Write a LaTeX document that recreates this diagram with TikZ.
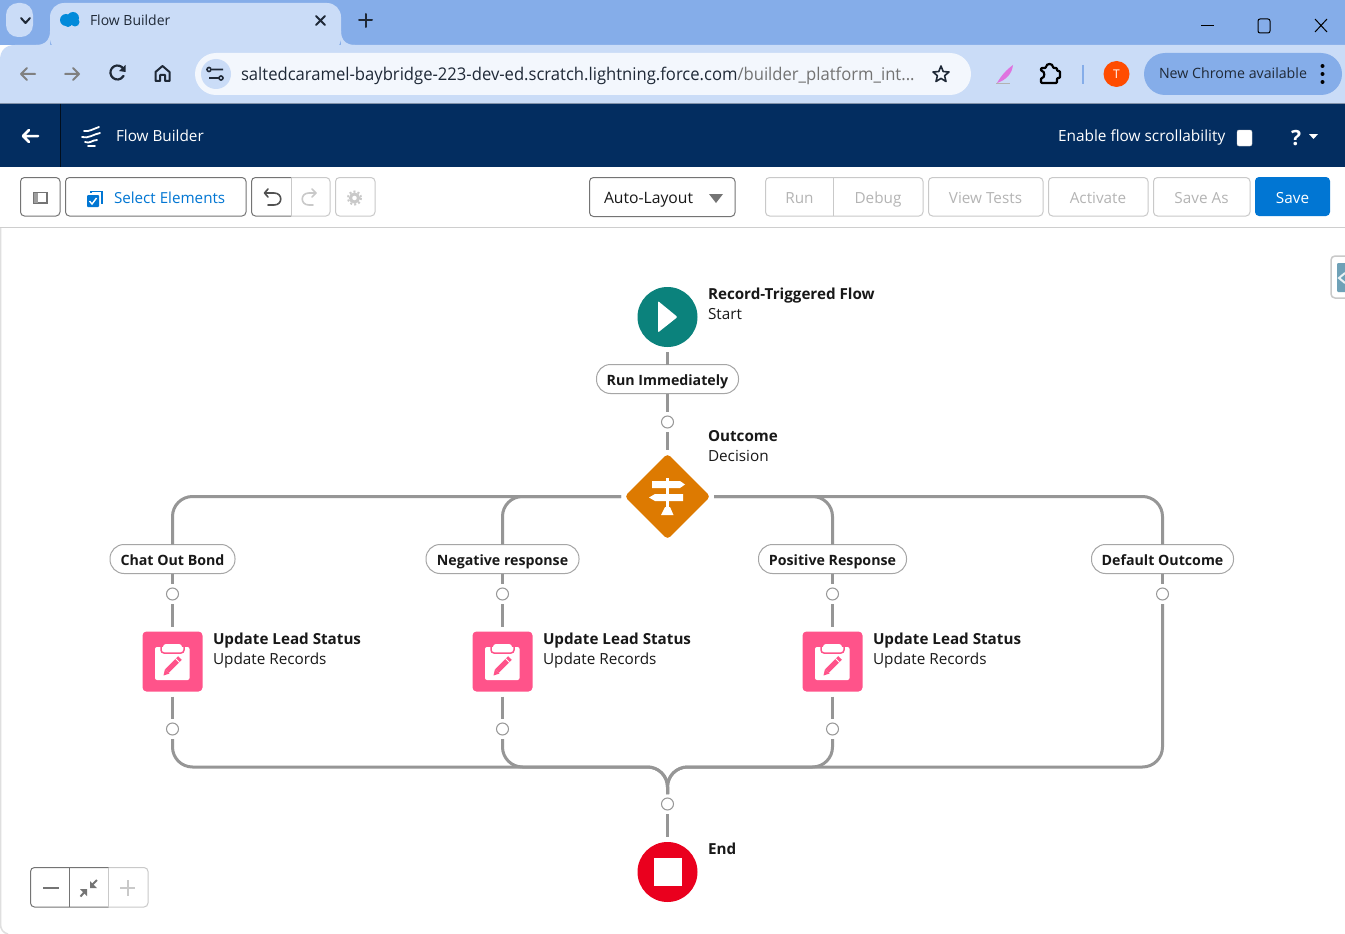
\documentclass[tikz,border=0pt]{standalone}
\usepackage{fontspec}
\setmainfont{Open Sans}
\newfontfamily\urlfont[FakeStretch=0.95]{Open Sans}
\usetikzlibrary{shapes.geometric}
\definecolor{tabbar}{HTML}{85ADE9}
\definecolor{chromebar}{HTML}{CADCF7}
\definecolor{omni}{HTML}{F3F7FD}
\definecolor{navy}{HTML}{032D60}
\definecolor{sfblue}{HTML}{0176D3}
\definecolor{flowteal}{HTML}{0B827C}
\definecolor{floworange}{HTML}{DD7A01}
\definecolor{flowpink}{HTML}{FF538A}
\definecolor{flowred}{HTML}{EA001E}
\definecolor{conn}{HTML}{969696}
\definecolor{ink}{HTML}{181818}
\definecolor{btnline}{HTML}{747474}
\definecolor{offline}{HTML}{C9C9C9}
\definecolor{offtext}{HTML}{B4B4B4}
\definecolor{chromeink}{HTML}{1F2937}
\definecolor{sidetab}{HTML}{6FA1B7}
\newcommand{\fsz}[1]{\fontsize{#1}{#1}\selectfont}
\tikzset{
  txt/.style={inner sep=0pt,outer sep=0pt,text=ink,font=\fsz{15.3},anchor=base west},
  ttl/.style={txt,font=\fsz{15.2}\bfseries},
  ctext/.style={inner sep=0pt,outer sep=0pt,anchor=base},
  pill/.style={draw=conn!85,line width=1pt,fill=white,rounded corners=14pt,minimum height=29pt,inner sep=0pt,outer sep=0pt,text=ink,text height=12pt,text depth=0pt,font=\fsz{14.2}\bfseries},
  dot/.style={circle,draw=conn,line width=1pt,fill=white,minimum size=12pt,inner sep=0pt,outer sep=4pt},
  elem/.style={circle,minimum size=60pt,inner sep=0pt,outer sep=5pt},
  recbox/.style={rectangle,rounded corners=4pt,fill=flowpink,minimum size=60pt,inner sep=0pt,outer sep=5pt},
  wire/.style={draw=conn,line width=3pt,rounded corners=20pt},
  btn/.style={draw=btnline,line width=1pt,fill=white,rounded corners=4pt},
  offbtn/.style={draw=offline,line width=1pt,fill=white,rounded corners=4pt},
  icon/.style={line width=2pt,line cap=round,line join=round},
}
\begin{document}
\begin{tikzpicture}[x=1pt,y=-1pt]
\useasboundingbox (0,0) rectangle (1345,934);
\fill[white] (0,0) rectangle (1345,934);
% browser chrome
\fill[tabbar] (0,0) rectangle (1345,45);
\fill[chromebar] (0,104) -- (0,60) .. controls (0,50) and (6,45) .. (15,45) -- (1345,45) -- (1345,104) -- cycle;
\fill[chromebar,rounded corners=14pt] (50,52) -- (50,3) -- (341,3) -- (341,52) -- cycle;
\fill[chromebar] (36,45) .. controls (45,45) and (50,40) .. (50,31) -- (50,45) -- cycle;
\fill[chromebar] (341,31) .. controls (341,40) and (346,45) .. (355,45) -- (341,45) -- cycle;
\fill[chromebar,rounded corners=12pt] (6,3) rectangle (33,37);
\draw[chromeink,icon] (21,18) -- (25.5,23) -- (30,18);
\fill[sfblue!85!cyan] (66,20) circle (6) (73,18) circle (6) (75,22) circle (4.5) (68,23) circle (4);
\node[txt,text=chromeink,font=\fsz{14}] (tabtitle) at (90,26) {Flow Builder};
\draw[chromeink,icon] (316,16) -- (325,25) (325,16) -- (316,25);
\draw[chromeink,icon] (365.5,14) -- (365.5,27) (359,20.5) -- (372,20.5);
\draw[line width=1pt,black] (1201,26) -- (1214,26);
\draw[line width=1pt,black,rounded corners=2pt] (1258,19) rectangle (1270,33);
\draw[line width=1pt,black] (1315,19) -- (1327,32) (1327,19) -- (1315,32);
% nav icons
\draw[gray,icon,line width=2pt] (35,74) -- (21,74) (27,68) -- (21,74) -- (27,80);
\draw[gray,icon,line width=2pt] (65,74) -- (79,74) (73,68) -- (79,74) -- (73,80);
\draw[chromeink,icon,line width=2.2pt] (123.5,69) arc[start angle=-30,end angle=-330,radius=7];
\fill[chromeink] (125.5,65) -- (125.5,72) -- (119,71) -- cycle;
\draw[chromeink,icon] (155.5,81) -- (155.5,72) -- (162.5,66) -- (169.5,72) -- (169.5,81) -- (165,81) -- (165,75) -- (160,75) -- (160,81) -- cycle;
\fill[omni,rounded corners=21pt] (195,53) rectangle (971,95);
\fill[chromebar] (216,74) circle (15);
\draw[chromeink,line width=1.6pt] (209,69.5) circle (2) (212,69.5) -- (223,69.5) (209,78) -- (219,78) (221,78) circle (2);
\node[txt,text=chromeink,font=\urlfont\fsz{17.5}] (url) at (241,81) {saltedcaramel-baybridge-223-dev-ed.scratch.lightning.force.com\textcolor{gray!90!black}{/builder\_platform\_int...}};
\draw[chromeink,line width=1.6pt,line join=round] (941,66) -- (943.2,71.5) -- (949,72) -- (944.6,75.7) -- (946,81.5) -- (941,78.4) -- (936,81.5) -- (937.4,75.7) -- (933,72) -- (938.8,71.5) -- cycle;
\fill[violet!45!magenta!55!white] (997,83) .. controls (1001,76) and (1006,70) .. (1013,65) .. controls (1012,74) and (1006,80) .. (997,83) -- cycle;
\draw[gray!60,line width=1pt] (996,84) -- (1010,84);
\draw[black,line width=2.2pt,line join=round,rounded corners=1pt] (1041,68) -- (1046,68) .. controls (1046,63) and (1053,63) .. (1053,68) -- (1057,68) -- (1057,71) -- (1060,71) -- (1060,78) -- (1057,78) -- (1057,83) -- (1041,83) -- (1041,78) .. controls (1045,78) and (1045,71) .. (1041,71) -- cycle;
\draw[tabbar,line width=2pt] (1082.5,65) -- (1082.5,84);
\fill[orange!60!red] (1116.5,74) circle (13);
\node[ctext,text=white,font=\fsz{12}] (avatar) at (1116.5,78.5) {T};
\fill[tabbar,rounded corners=21pt] (1144,53) rectangle (1342,95);
\node[txt,text=chromeink,font=\fsz{14.2}] (newchrome) at (1159,79) {New Chrome available};
\fill[black] (1322.5,66) circle (2) (1322.5,74) circle (2) (1322.5,82) circle (2);
\fill[gray!60!tabbar] (0,103) rectangle (1345,104);
% navy header
\fill[navy] (0,104) rectangle (1345,167);
\draw[black!70!navy,line width=1pt] (60.5,104) -- (60.5,167);
\draw[white,icon,line width=2.5pt] (38,136) -- (23,136) (29,130) -- (23,136) -- (29,142);
\draw[white,line width=1.8pt,line cap=round] (84,131) .. controls (89,132) and (93,129) .. (99,127)
  (82,137) .. controls (88,139) and (94,134) .. (100,133)
  (85,142) .. controls (90,144) and (92,140) .. (97,140);
\draw[white,line width=1.6pt,line cap=round] (88,146) -- (95,146);
\node[txt,text=white,font=\fsz{15.3}] (apptitle) at (116,142) {Flow Builder};
\node[txt,text=white,font=\fsz{15.4}] (scroll) at (1058,142) {Enable flow scrollability};
\fill[white,rounded corners=2pt,draw=gray!40] (1237,130) rectangle (1252,146);
\node[ctext,text=white,font=\fsz{21}\bfseries] (help) at (1296,145) {?};
\fill[white] (1309,134) -- (1318,134) -- (1313.5,139) -- cycle;
% toolbar
\draw[btn] (20.5,177.5) rectangle (60,216);
\draw[btnline,line width=1.2pt] (33.5,192.5) rectangle (47,203);
\fill[btnline!70] (33.5,192.5) rectangle (38,203);
\draw[btn] (65.5,177.5) rectangle (246,216);
\fill[sfblue,rounded corners=1pt] (87,195) rectangle (99,207);
\draw[sfblue,line width=1.2pt] (91,193) -- (91,191.5) -- (102,191.5) -- (102,203) -- (100.5,203);
\draw[white,line width=1.4pt] (89.5,201) -- (92,204) -- (96.5,198);
\node[txt,text=sfblue,font=\fsz{15.2}] (selel) at (114,203) {Select Elements};
\draw[draw=offline,line width=1pt] (291,177.5) [rounded corners=4pt] -- (330,177.5) -- (330,216) -- (291,216);
\draw[draw=btnline,line width=1pt] (291,177.5) [rounded corners=4pt] -- (251.5,177.5) -- (251.5,216) -- (291,216);
\draw[draw=offline,line width=1pt] (291,177.5) -- (291,216);
\draw[btnline!70!black,icon,line width=1.6pt] (265,193) -- (274,193) .. controls (283,193) and (283,205) .. (274,205) -- (268,205) (268,189) -- (264.5,193) -- (268,197);
\draw[offline,icon,line width=1.6pt] (316,193) -- (309,193) .. controls (300,193) and (300,205) .. (309,205) -- (313,205) (312,189) -- (316,193) -- (312,197);
\draw[offbtn] (335.5,177.5) rectangle (375,216);
\draw[offline,line width=3pt] (354.5,198) circle (4);
\draw[offline,line width=2pt,dash pattern=on 2pt off 2.2pt] (354.5,198) circle (6.5);
\draw[btn] (589.5,177.5) rectangle (735,216.5);
\node[txt,font=\fsz{15.7}] (autol) at (604,203) {Auto-Layout};
\fill[btnline] (709,194) -- (723,194) -- (716,203) -- cycle;
\draw[offbtn] (765.5,177.5) rectangle (923,216);
\draw[offline,line width=1pt] (833.5,177.5) -- (833.5,216);
\node[ctext,text=offtext,font=\fsz{15.3}] (brun) at (799.5,203) {Run};
\node[ctext,text=offtext,font=\fsz{15.3}] (bdebug) at (878,203) {Debug};
\draw[offbtn] (928.5,177.5) rectangle (1043,216);
\node[ctext,text=offtext,font=\fsz{15.3}] (bview) at (985.5,203) {View Tests};
\draw[offbtn] (1048.5,177.5) rectangle (1148,216);
\node[ctext,text=offtext,font=\fsz{15.3}] (bact) at (1098,203) {Activate};
\draw[offbtn] (1153.5,177.5) rectangle (1250,216);
\node[ctext,text=offtext,font=\fsz{15.3}] (bsaveas) at (1201.5,203) {Save As};
\fill[sfblue,rounded corners=4pt] (1255,177) rectangle (1330,216);
\node[ctext,text=white,font=\fsz{15.3}] (bsave) at (1292.5,203) {Save};
\draw[offline!90,line width=1pt] (0,227.5) -- (1345,227.5);
\draw[offline!60,line width=1.5pt] (0.5,228) -- (0.5,924) .. controls (0.5,929) and (3,933) .. (8,934);
% side tab
\draw[offline,line width=1.5pt,fill=white,rounded corners=4pt] (1350,256) -- (1331,256) -- (1331,298) -- (1350,298);
\fill[sidetab,rounded corners=1pt] (1337,263) rectangle (1347,292);
\draw[white!85!sidetab,line width=2pt] (1345,273) -- (1339,278) -- (1345,283);
% flow elements
\node[elem,fill=flowteal] (start) at (667.5,317) {};
\fill[white,rounded corners=1pt] (658,301) -- (677.5,317) -- (658,332.5) -- cycle;
\node[ttl] (startT) at (708,299) {Record-Triggered Flow};
\node[txt] (startS) at (708,319) {Start};
\node[pill,minimum width=142pt] (run) at (667.5,379) {Run Immediately};
\node[dot] (d0) at (667.5,422) {};
\node[diamond,fill=floworange,rounded corners=4pt,aspect=1,minimum width=88pt,minimum height=88pt,inner sep=0pt,outer sep=2.5pt] (dec) at (667.5,496.5) {};
\node[txt] (decS) at (708,461) {Decision};
\node[ttl] (decT) at (708,441) {Outcome};
% signpost
\fill[white] (666,478) rectangle (669,510);
\fill[white] (652,481) -- (680,481) -- (685,484.5) -- (680,488) -- (652,488) -- cycle;
\fill[white] (655,494) -- (683,494) -- (683,501) -- (655,501) -- (649,497.5) -- cycle;
\fill[white] (665,507) -- (670,507) -- (673.5,515) -- (661,515) -- cycle;
\node[pill,minimum width=125pt] (p1) at (172.5,559) {Chat Out Bond};
\node[pill,minimum width=153pt] (p2) at (502.5,559) {Negative response};
\node[pill,minimum width=148pt] (p3) at (832.5,559) {Positive Response};
\node[pill,minimum width=142pt] (p4) at (1162.5,559) {Default Outcome};
\node[dot] (u1) at (172.5,594) {};
\node[dot] (u2) at (502.5,594) {};
\node[dot] (u3) at (832.5,594) {};
\node[dot] (u4) at (1162.5,594) {};
\foreach \n/\x in {r1/172.5,r2/502.5,r3/832.5}{
  \node[recbox] (\n) at (\x,661.5) {};
  \begin{scope}[shift={(\x-172.5,0)}]
    \fill[white,rounded corners=2pt] (155,647) rectangle (189.5,680);
    \draw[flowpink,line width=1.5pt,rounded corners=3pt] (161,642) -- (161,653) -- (184,653) -- (184,642);
    \fill[white,rounded corners=3pt] (163,644) rectangle (182,651.5);
    \draw[flowpink,line width=5pt] (167,671) -- (180,658);
    \fill[flowpink] (163.5,675.5) -- (165,669) -- (169.5,673.5) -- cycle;
    \draw[white,line width=.8pt] (175.5,658.5) -- (179.5,662.5);
  \end{scope}
}
\node[ttl] (t1) at (213,644) {Update Lead Status};
\node[txt] (s1) at (213,664) {Update Records};
\node[ttl] (t2) at (543,644) {Update Lead Status};
\node[txt] (s2) at (543,664) {Update Records};
\node[ttl] (t3) at (873,644) {Update Lead Status};
\node[txt] (s3) at (873,664) {Update Records};
\node[dot] (v1) at (172.5,729) {};
\node[dot] (v2) at (502.5,729) {};
\node[dot] (v3) at (832.5,729) {};
\node[dot] (d9) at (667.5,804) {};
\node[elem,fill=flowred] (stop) at (667.5,872) {};
\fill[white] (653.5,858) rectangle (681.5,886);
\node[ttl] (endT) at (708,854) {End};
\coordinate (merge) at (667.5,767);
% connectors
\draw[wire] (start) -- (run);
\draw[wire] (run) -- (d0);
\draw[wire] (d0) -- (dec);
\draw[wire] (dec.west) -| (p1.north);
\draw[wire] (dec.west) -| (p2.north);
\draw[wire] (dec.east) -| (p3.north);
\draw[wire] (dec.east) -| (p4.north);
\foreach \a/\b/\c in {p1/u1/r1,p2/u2/r2,p3/u3/r3}{
  \draw[wire] (\a) -- (\b);
  \draw[wire] (\b) -- (\c);
}
\draw[wire] (p4) -- (u4);
\foreach \a/\b in {r1/v1,r2/v2,r3/v3}{\draw[wire] (\a) -- (\b);}
\draw[wire] (v1.south) |- (merge) -- (d9.north);
\draw[wire] (v2.south) |- (merge) -- (d9.north);
\draw[wire] (v3.south) |- (merge) -- (d9.north);
\draw[wire] (u4.south) |- (merge) -- (d9.north);
\draw[wire] (d9) -- (stop);
% zoom control
\draw[draw=offline,line width=1pt] (108.5,867.5) [rounded corners=4pt] -- (148,867.5) -- (148,907) -- (108.5,907);
\draw[draw=btnline,line width=1pt] (108.5,867.5) [rounded corners=4pt] -- (30.5,867.5) -- (30.5,907) -- (108.5,907);
\draw[offline,line width=1pt] (108.5,867.5) -- (108.5,907);
\draw[btnline,line width=1pt] (69.5,867.5) -- (69.5,907);
\draw[btnline,line width=2pt] (43,888) -- (59,888);
\fill[btnline] (90,881) -- (90,888) -- (97,888) -- cycle;
\draw[btnline,line width=2pt] (92,885) -- (97,880);
\fill[btnline] (87,889) -- (80,889) -- (87,896) -- cycle;
\draw[btnline,line width=2pt] (84.5,892) -- (80.5,896.5);
\draw[offline,line width=2pt] (120,888) -- (135,888) (127.5,880) -- (127.5,896);
\end{tikzpicture}
\end{document}
